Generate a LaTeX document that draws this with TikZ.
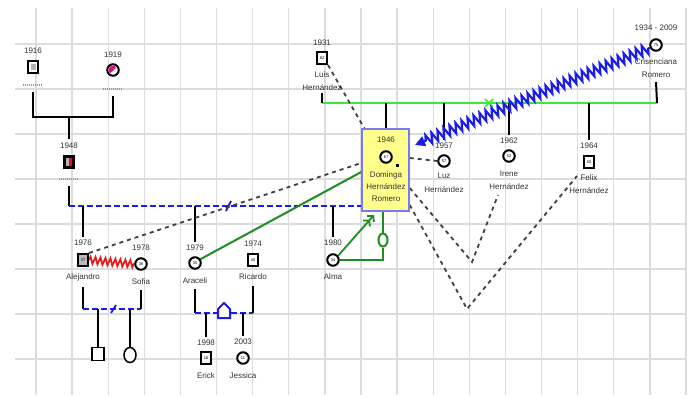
\documentclass[tikz,border=0pt]{standalone}
\usepackage{fontspec}
\setmainfont{Liberation Sans}
\usetikzlibrary{decorations.pathmorphing,arrows.meta,shapes.geometric}
\pgfdeclarelayer{gridlayer}
\pgfdeclarelayer{bglayer}
\pgfsetlayers{gridlayer,bglayer,main}
\definecolor{gridc}{HTML}{DCDCDC}
\definecolor{bl}{HTML}{1C1CE8}
\definecolor{lg}{HTML}{3CE83C}
\definecolor{dg}{HTML}{1E8C1E}
\definecolor{boxy}{HTML}{FFFF8C}
\definecolor{boxb}{HTML}{7A7AF0}
\definecolor{txt}{HTML}{333333}
\definecolor{zz}{HTML}{E81C1C}
\begin{document}
\begin{tikzpicture}[x=1pt,y=-1pt,
 yr/.style={font=\fontsize{8}{9}\selectfont, text=txt, inner sep=0},
 nm/.style={font=\fontsize{8}{9}\selectfont, text=txt, inner sep=0},
 male/.style={draw=black, line width=2pt, fill=white, minimum width=10pt, minimum height=12pt, inner sep=0, font=\fontsize{4}{4}\selectfont},
 female/.style={circle, draw=black, line width=2pt, fill=white, minimum size=11.5pt, inner sep=0, font=\fontsize{4}{4}\selectfont},
 ph/.style={minimum width=20pt, minimum height=1.5pt, inner sep=0, path picture={\draw[gray!80, line width=1.5pt, dash pattern=on 1.3pt off 0.7pt] (path picture bounding box.west) -- (path picture bounding box.east);}},
 blk/.style={black, line width=2pt},
 bld/.style={bl, line width=2.5pt, dash pattern=on 6pt off 3pt},
 dsh/.style={black!75, line width=1.8pt, dash pattern=on 4pt off 4pt},
 domb/.style={draw=boxb, fill=boxy, line width=1.5pt, minimum width=47pt, minimum height=82pt, inner sep=0}
]
\useasboundingbox (0,0) rectangle (692,396);
\begin{pgfonlayer}{gridlayer}
 \fill[white] (0,0) rectangle (692,396);
 \foreach \i in {0,...,18} \draw[gridc, line width=1.3pt] ({36+36.11*\i},8) -- ({36+36.11*\i},395);
 \foreach \j in {0,...,7} \draw[gridc, line width=1.3pt] (15,{44+45*\j}) -- (686,{44+45*\j});
\end{pgfonlayer}

% ---------- people ----------
\node[male] (p16) at (33,67) {};
\fill[gray!60] (30.5,64) rectangle (35.5,70);
\node[yr] (y16) at (33,51) {1916};
\node[ph] (ph16) at (33,85) {};

\node[female] (p19) at (113,70) {};
\begin{scope}
 \clip (113,70) circle (4.5pt);
 \fill[magenta!85!violet] (113,71) -- (107,75) -- (107,63) -- (119,63) -- (118,65) -- cycle;
\end{scope}
\node[yr] (y19) at (113,55) {1919};
\node[ph] (ph19) at (113,89) {};

\node[male, fill=black] (p48) at (69,162) {};
\fill[gray!60] (66,158) rectangle (69,166);
\fill[red!85!magenta] (69,158) rectangle (72,166);
\node[yr] (y48) at (69,146) {1948};
\node[ph] (ph48) at (69,179) {};

\node[male, fill=gray!55] (alej) at (83,260) {37};
\node[yr] (y76) at (83,243) {1976};
\node[nm] (alejn) at (83,277) {Alejandro};

\node[female] (sof) at (141,264) {36};
\node[yr] (y78) at (141,248) {1978};
\node[nm] (sofn) at (141,282) {Sofia};

\node[male, line width=1.5pt, minimum width=12pt, minimum height=13pt] (c1) at (98,354) {};
\node[ellipse, draw=black, line width=1.5pt, fill=white, minimum width=12pt, minimum height=15pt, inner sep=0] (c2) at (130,355) {};

\node[female] (arac) at (195,263) {35};
\node[yr] (y79) at (195,248) {1979};
\node[nm] (aracn) at (195,281) {Araceli};

\node[male] (ric) at (253,260) {40};
\node[yr] (y74) at (253,244) {1974};
\node[nm] (ricn) at (253,277) {Ricardo};

\node[male] (erick) at (206,358) {16};
\node[yr] (y98) at (206,343) {1998};
\node[nm] (erickn) at (206,376) {Erick};

\node[female] (jes) at (243,358) {11};
\node[yr] (y03) at (243,342) {2003};
\node[nm] (jesn) at (243,376) {Jessica};

\node[female] (alma) at (333,260) {34};
\node[yr] (y80) at (333,243) {1980};
\node[nm] (alman) at (333,277) {Alma};

\node[domb] (dom) at (385.5,170) {};
\node[yr] (y46) at (386,140) {1946};
\node[female] (dmg) at (386,157) {67};
\fill (395.5,163.5) rectangle (399,167);
\node[nm] (dn1) at (386,175) {Dominga};
\node[nm] (dn2) at (386,187) {Hernández};
\node[nm] (dn3) at (386,199) {Romero};

\node[male] (luis) at (322,58) {82};
\node[yr] (y31) at (322,43) {1931};
\node[nm] (luisn) at (322,75) {Luis};
\node[nm] (luish) at (322,88) {Hernández};

\node[female] (cris) at (656,45) {75};
\node[yr] (y34) at (656,28) {1934 - 2009};
\node[nm] (crisn) at (656,62) {Crisenciana};
\node[nm] (crisn2) at (656,75) {Romero};

\node[female] (luz) at (444,161) {57};
\node[yr] (y57) at (444,146) {1957};
\node[nm] (luzn) at (444,176) {Luz};
\node[nm] (luzh) at (444,190) {Hernández};

\node[female] (iren) at (509,156) {52};
\node[yr] (y62) at (509,141) {1962};
\node[nm] (irenn) at (509,174) {Irene};
\node[nm] (irenh) at (509,187) {Hernández};

\node[male] (felix) at (589,162) {50};
\node[yr] (y64) at (589,146) {1964};
\node[nm] (felixn) at (589,178) {Felix};
\node[nm] (felixh) at (589,191) {Hernández};

\node[ellipse, draw=dg, line width=2pt, fill=white, minimum width=9pt, minimum height=13pt, inner sep=0] (gc) at (383,240) {};

\draw[bl, line width=2pt, fill=white] (218,318) -- (218,309) -- (224,303) -- (230,309) -- (230,318) -- cycle;

% ---------- connectors ----------
\begin{pgfonlayer}{bglayer}
\coordinate (u1) at (69,117);
\draw[blk] ([yshift=-6pt]ph16.south) |- (u1) -| ([yshift=-6pt]ph19.south);
\draw[blk] (u1) -- ([yshift=4pt]y48.north);

\coordinate (m1) at (69,206);
\draw[blk] ([yshift=-6pt]ph48.south) -- (m1);
\draw[bld] (m1) -- (m1 -| dom.west);
\draw[bl, line width=1.8pt] (226,211) -- (231,201);
\draw[blk] (m1 -| y76) -- ([yshift=3pt]y76.north);
\draw[blk] (m1 -| y79) -- ([yshift=3pt]y79.north);
\draw[blk] (m1 -| y80) -- ([yshift=3pt]y80.north);

\coordinate (m2) at (83,309);
\draw[blk] ([yshift=-6pt]alejn.south) -- (m2);
\draw[bld] (m2) -- (m2 -| sofn);
\draw[blk] (m2 -| sofn) -- ([yshift=-5pt]sofn.south);
\draw[bl, line width=1.8pt] (111,313) -- (116,305);
\draw[blk] (m2 -| c1) -- (c1.north);
\draw[blk] (m2 -| c2) -- (c2.north);

\coordinate (m3) at (195,313);
\draw[blk] ([yshift=-5pt]aracn.south) -- (m3);
\draw[bld] (m3) -- (m3 -| ricn);
\draw[blk] (m3 -| ricn) -- ([yshift=-6pt]ricn.south);
\draw[blk] (m3 -| y98) -- ([yshift=3pt]y98.north);
\draw[blk] (m3 -| y03) -- ([yshift=3pt]y03.north);

\coordinate (m4) at (322,103);
\coordinate (m5) at (657,103);
\draw[lg, line width=2pt] (m4) -- (m5);
\draw[black, line width=1.5pt] ([yshift=-2pt]luish.south) -- (m4);
\draw[blk] ([yshift=-4pt]crisn2.south) -- (m5);
\draw[blk] (m4 -| dom) -- (dom.north);
\draw[blk] (m4 -| y57) -- ([yshift=3pt]y57.north);
\draw[blk] (m4 -| y62) -- ([yshift=3pt]y62.north);
\draw[blk] (m4 -| y64) -- ([yshift=3pt]y64.north);
\draw[lg, line width=1.5pt] (485,99) -- (493,107) (485,107) -- (493,99);

\coordinate (zt) at (415,145);
\draw[bl, line width=2.2pt, -{Triangle[length=10pt,width=10pt]}, decorate, decoration={zigzag, segment length=6.5pt, amplitude=5pt, pre length=2pt, post length=9pt}] (cris.205) -- (zt);

\draw[zz, line width=1.8pt, decorate, decoration={zigzag, segment length=5pt, amplitude=3.5pt}] (alej.east) -- (sof.west);

\draw[dg, line width=2pt] (arac.35) -- (dom.west |- 0,172);
\coordinate (at) at (374,215);
\draw[dg, line width=1.8pt, -{Straight Barb[length=4pt,width=9pt] Straight Barb[length=4pt,width=9pt]}] (alma.40) -- (at);
\draw[dg, line width=2pt] (alma.east) -| (gc.south);
\draw[dg, line width=2pt] (gc.north) -- (gc.north |- dom.south);

\draw[dsh] (luis.south east) -- ([xshift=3pt]dom.north west);
\draw[dsh] (alej.north east) -- (dom.west |- 0,163);
\draw[dsh] (dom.east |- 0,158) -- (luz.west);
\coordinate (v1) at (472,262);
\coordinate (v2) at (467,309);
\coordinate (ie) at (498,195);
\coordinate (fe) at (577,176);
\draw[dsh] (dom.east |- 0,188) -- (v1) -- (ie);
\draw[dsh] (dom.east |- 0,205) -- (v2) -- (fe);
\end{pgfonlayer}
\end{tikzpicture}
\end{document}
